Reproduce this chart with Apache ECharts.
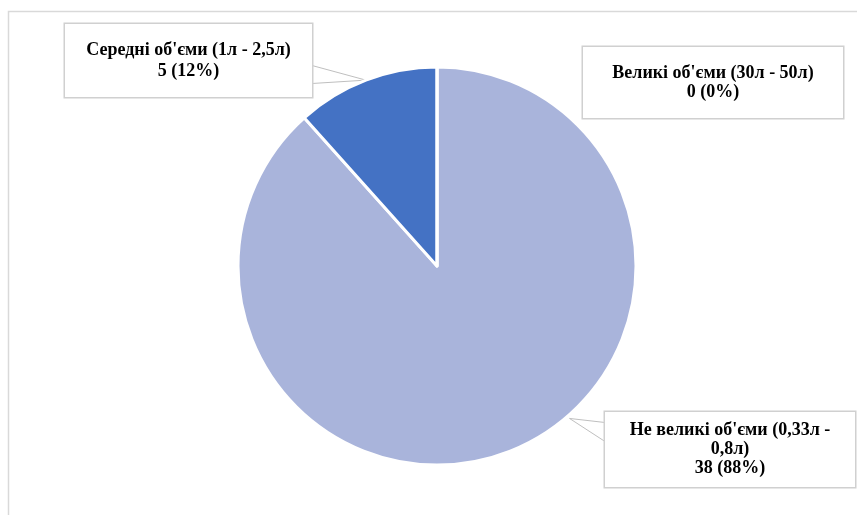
<!DOCTYPE html>
<html>
<head>
<meta charset="utf-8">
<script src="https://cdn.jsdelivr.net/npm/echarts@6/dist/echarts.min.js"></script>
<style>
  html, body { margin: 0; padding: 0; background: #fff; }
  #chart { width: 857px; height: 515px; }
</style>
</head>
<body>
<div id="chart"></div>
<script>
// Volume categories and counts
const categories = [
  "Не великі об'єми (0,33л -\n0,8л)",
  "Середні об'єми (1л - 2,5л)",
  "Великі об'єми (30л - 50л)"
];
const counts = [38, 5, 0];
const colors = ['#A9B4DB', '#4472C4', '#ED7D31'];

const CENTER = [437, 266];
const RADIUS = 199;

// Callout boxes: centre, outer width/height, line height, top padding
const boxes = [
  { cx: 730, cy: 449.5, w: 250, h: 75, lh: 19, top: 9 },
  { cx: 188.5, cy: 60.5, w: 247, h: 73, lh: 21, top: 18 },
  { cx: 713, cy: 82.5, w: 260, h: 71, lh: 19, top: 16 }
];

function labelFor(i) {
  const b = boxes[i];
  const lines = categories[i].split('\n').length + 1;
  const bottom = b.h - lines * b.lh - b.top;
  return {
    show: true,
    position: 'outside',
    formatter: '{b}\n{c} ({d}%)',
    fontFamily: 'Liberation Serif',
    fontWeight: 'bold',
    fontSize: 18,
    lineHeight: b.lh,
    color: '#000',
    align: 'center',
    width: b.w - 20,
    backgroundColor: '#fff',
    borderColor: '#D0D0D0',
    borderWidth: 1.5,
    padding: [b.top, 10, bottom, 10]
  };
}

const data = categories.map((name, i) => ({
  name: name,
  value: counts[i],
  itemStyle: { color: colors[i] },
  label: labelFor(i),
  labelLine: { show: i !== 2 }
}));

const chart = echarts.init(document.getElementById('chart'), null, { renderer: 'canvas' });

chart.setOption({
  animation: false,
  backgroundColor: '#fff',
  graphic: [{
    type: 'rect',
    shape: { x: 8.5, y: 11.5, width: 900, height: 600 },
    style: { fill: 'none', stroke: '#D9D9D9', lineWidth: 1.5 },
    silent: true
  }],
  series: [{
    type: 'pie',
    center: CENTER,
    radius: RADIUS,
    startAngle: 90,
    clockwise: true,
    percentPrecision: 0,
    avoidLabelOverlap: false,
    itemStyle: { borderColor: '#fff', borderWidth: 3 },
    labelLine: {
      show: true,
      lineStyle: { color: '#BFBFBF', width: 1 }
    },
    data: data,
    labelLayout: function (params) {
      const i = params.dataIndex;
      const b = boxes[i];
      const out = { x: b.cx, y: b.cy, align: 'center', verticalAlign: 'middle' };
      if (i === 1) {
        // wedge from the right side of the box to the slice edge
        const tip = params.labelLinePoints ? params.labelLinePoints[0] : [366, 80];
        const edge = b.cx + b.w / 2;
        out.labelLinePoints = [[edge, b.cy + 5], tip, [edge, b.cy + 23]];
      } else if (i === 0) {
        // wedge from the left side of the box to a point on the rim
        const a = 49 * Math.PI / 180;
        const tip = [CENTER[0] + (RADIUS + 3) * Math.cos(a), CENTER[1] + (RADIUS + 3) * Math.sin(a)];
        const edge = b.cx - b.w / 2;
        out.labelLinePoints = [[edge, b.cy - 27], tip, [edge, b.cy - 8]];
      }
      return out;
    }
  }]
});
</script>
</body>
</html>
